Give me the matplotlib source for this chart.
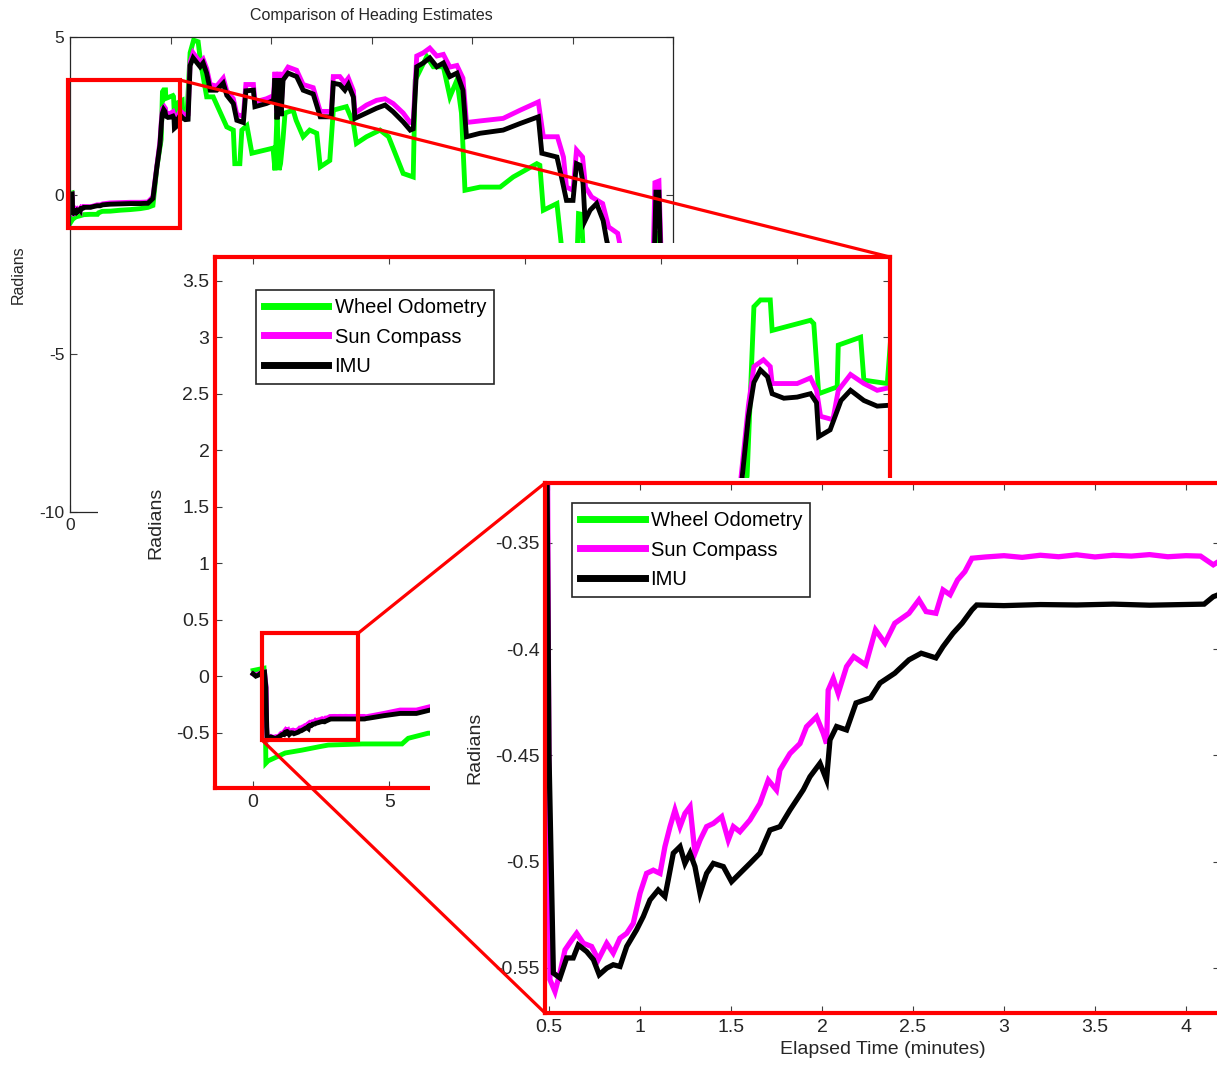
import matplotlib
matplotlib.use('Agg')
import matplotlib.pyplot as plt
from matplotlib.patches import Rectangle, ConnectionPatch
from matplotlib.ticker import FuncFormatter

plt.rcParams['font.family'] = ['Liberation Sans', 'DejaVu Sans']
plt.rcParams['axes.unicode_minus'] = False

# heading traces, elapsed time in minutes, heading in radians
t_imu = [0.0, 0.1, 0.2, 0.3, 0.42, 0.47, 0.50, 0.524, 0.56, 0.597, 0.633, 0.661, 0.707, 0.744, 0.776,
         0.817, 0.853, 0.89, 0.927, 0.981, 1.018, 1.055, 1.10, 1.137, 1.155, 1.183, 1.22, 1.247, 1.275,
         1.302, 1.33, 1.366, 1.403, 1.458, 1.503, 1.549, 1.604, 1.659, 1.714, 1.769, 1.824, 1.897, 1.934,
         1.989, 2.025, 2.044, 2.08, 2.135, 2.187, 2.267, 2.319, 2.40, 2.478, 2.545, 2.626, 2.665, 2.72,
         2.77, 2.824, 2.85, 3.0, 3.2, 3.4, 3.6, 3.8, 4.0, 4.1, 4.15, 4.25,
         4.8, 5.4, 6.0, 6.5, 8, 10, 12, 14, 15.5, 16.5, 17.3, 17.9, 18.2, 18.4, 18.64, 18.9, 19.07, 19.5,
         19.99, 20.48, 20.7, 20.78, 21.2, 21.6, 21.95, 22.44, 22.93, 23.5,
         23.9, 24.5, 25.2, 25.9, 26.5, 27.2, 27.9, 29.2, 30.5, 31.2, 32.5, 33.2, 34.5, 35.0, 36.5, 36.8,
         39.1, 40.5, 40.8, 41.2, 41.6, 42.0, 42.4, 43.4, 45.1, 46.4, 48.4, 49.8, 52.0, 52.4, 53.7, 54.7,
         55.4, 56.4, 56.7, 59.0, 61.0, 62.7, 64.3, 66.3, 67.7, 68.3, 69.0, 70.3, 71.6, 73.0, 74.3, 75.6,
         77.0, 78.2, 78.9, 81.6, 86.2, 89.6, 93.2, 93.9, 96.9, 97.8, 98.8, 100.1, 100.8, 101.5, 102.1,
         102.5, 103.5, 104.8, 106.1, 106.8, 108, 112, 116.2, 116.6, 117.2, 117.6, 119]
imu = [0.02, 0.0, 0.01, 0.03, 0.035, -0.1, -0.45, -0.5524, -0.5547, -0.5453, -0.5453, -0.5392, -0.5423,
       -0.5461, -0.5532, -0.5501, -0.5485, -0.5493, -0.5399, -0.5321, -0.5258, -0.518, -0.5133, -0.5164,
       -0.5086, -0.496, -0.4929, -0.5008, -0.496, -0.5023, -0.5149, -0.5055, -0.5008, -0.5023, -0.5094,
       -0.5055, -0.5008, -0.496, -0.4851, -0.4835, -0.4757, -0.4662, -0.46, -0.4537, -0.4615, -0.4427,
       -0.4364, -0.438, -0.4253, -0.4229, -0.4159, -0.4113, -0.405, -0.4019, -0.4041, -0.3988, -0.3925,
       -0.3878, -0.3815, -0.3792, -0.3795, -0.379, -0.3792, -0.3788, -0.3793, -0.379, -0.3788, -0.3753,
       -0.372,
       -0.35, -0.33, -0.33, -0.30, -0.28, -0.27, -0.26, -0.26, -0.25, -0.1, 0.9, 1.6, 2.3, 2.6, 2.71,
       2.65, 2.50, 2.46, 2.47, 2.50, 2.42, 2.12, 2.18, 2.44, 2.53, 2.44, 2.39, 2.40,
       4.1, 4.34, 4.2, 4.06, 4.18, 3.86, 3.32, 3.32, 3.54, 3.16, 2.9, 2.37, 2.3, 3.3, 3.32, 2.8,
       2.9, 3.0, 3.7, 2.4, 3.7, 2.5, 3.64, 3.86, 3.75, 3.32, 3.2, 2.48, 2.48, 3.54, 3.5, 3.32,
       3.5, 3.1, 2.43, 2.6, 2.75, 2.85, 2.64, 2.32, 2.06, 2.1, 4.06, 4.18, 4.34, 4.06, 4.18, 3.75,
       3.86, 3.32, 1.85, 1.96, 2.06, 2.27, 2.48, 1.33, 1.21, 0.58, -0.16, -0.16, 1.0, 0.95, 0.37,
       -0.8, -0.47, -0.26, -0.8, -1.42, -2.2, -2.6, -2.4, 0.1, 0.1, -2.3, -2.5]

t_sun = [0.0, 0.1, 0.2, 0.3, 0.42, 0.48, 0.505, 0.533, 0.56, 0.588, 0.624, 0.652, 0.689, 0.734, 0.771,
         0.817, 0.853, 0.89, 0.927, 0.963, 1.0, 1.036, 1.073, 1.11, 1.137, 1.165, 1.192, 1.22, 1.247,
         1.275, 1.302, 1.33, 1.366, 1.403, 1.449, 1.485, 1.513, 1.549, 1.604, 1.659, 1.705, 1.75, 1.769,
         1.824, 1.879, 1.915, 1.97, 2.007, 2.025, 2.034, 2.062, 2.089, 2.135, 2.174, 2.24, 2.294, 2.346,
         2.40, 2.478, 2.533, 2.572, 2.626, 2.665, 2.704, 2.745, 2.785, 2.824, 2.9, 3.0, 3.1, 3.2, 3.3,
         3.4, 3.5, 3.6, 3.7, 3.8, 3.9, 4.0, 4.08, 4.15, 4.25,
         4.8, 5.4, 6.0, 6.5, 8, 10, 12, 14, 15.5, 16.5, 17.3, 17.9, 18.2, 18.4, 18.75, 19.0, 19.07, 19.99,
         20.48, 20.7, 20.85, 21.3, 21.5, 21.95, 22.44, 22.93, 23.5,
         23.9, 24.5, 25.9, 26.5, 27.2, 27.9, 29.2, 30.5, 31.2, 32.5, 33.2, 34.5, 35.0, 36.5, 36.8, 39.1,
         40.5, 40.8, 41.2, 41.6, 42.0, 42.4, 43.4, 45.1, 46.4, 48.4, 49.8, 52.0, 52.4, 53.7, 54.7, 55.4,
         56.4, 56.7, 59.0, 61.0, 62.7, 64.3, 66.3, 67.7, 68.3, 69.0, 70.3, 71.6, 73.0, 74.3, 75.6, 77.0,
         78.2, 78.9, 81.6, 86.2, 89.6, 93.2, 94.2, 97.0, 98.2, 98.8, 100.1, 100.8, 102.0, 102.6, 103.8,
         106.0, 107.2, 109, 110, 112, 116.0, 116.4, 117.2, 117.7, 119]
sun = [0.02, 0.01, 0.02, 0.03, 0.035, -0.1, -0.5555, -0.5611, -0.5524, -0.5415, -0.537, -0.5337, -0.5384,
       -0.5399, -0.5461, -0.5384, -0.543, -0.536, -0.5337, -0.529, -0.5149, -0.5055, -0.504, -0.5055,
       -0.4929, -0.4835, -0.4757, -0.4835, -0.4773, -0.4741, -0.496, -0.4898, -0.4835, -0.482, -0.4788,
       -0.4898, -0.4835, -0.4859, -0.4804, -0.4726, -0.4616, -0.4663, -0.4569, -0.4491, -0.4444, -0.4365,
       -0.4318, -0.4396, -0.4444, -0.4193, -0.4138, -0.4208, -0.4082, -0.4035, -0.4074, -0.3909, -0.3971,
       -0.3878, -0.3831, -0.3768, -0.3823, -0.3831, -0.3721, -0.3744, -0.3674, -0.3635, -0.3572, -0.3566,
       -0.356, -0.3568, -0.3558, -0.3565, -0.3556, -0.3566, -0.3558, -0.3562, -0.3555, -0.3565, -0.356,
       -0.3562, -0.3603, -0.355,
       -0.33, -0.30, -0.30, -0.27, -0.24, -0.23, -0.22, -0.22, -0.21, -0.05, 0.95, 1.7, 2.4, 2.74, 2.8,
       2.74, 2.59, 2.59, 2.64, 2.53, 2.30, 2.27, 2.53, 2.67, 2.59, 2.53, 2.56,
       4.2, 4.5, 4.2, 4.3, 4.0, 3.5, 3.45, 3.7, 3.3, 3.05, 2.55, 2.5, 3.5, 3.5, 2.95, 3.05,
       3.15, 3.9, 2.6, 3.9, 2.7, 3.8, 4.05, 3.95, 3.5, 3.4, 2.65, 2.65, 3.75, 3.75, 3.55, 3.7,
       3.3, 2.6, 2.85, 3.0, 3.05, 2.9, 2.6, 2.3, 2.3, 4.4, 4.5, 4.65, 4.4, 4.45, 4.05, 4.1,
       3.7, 2.3, 2.35, 2.43, 2.69, 2.95, 1.85, 1.85, 1.21, 0.26, 0.16, 1.43, 1.21, 0.26, -0.05,
       -0.26, -1.0, -1.2, -2.0, -2.4, -2.3, 0.4, 0.45, -2.2, -2.4]

t_wheel = [0.0, 0.2, 0.40, 0.44, 0.47, 0.55, 1.18, 1.79, 2.4, 2.76, 4.0, 5.47, 5.7, 6.43, 8, 10, 12, 14,
           15.5, 16.5, 17.3, 18.15, 18.4, 18.64, 19.0, 19.07, 20.48, 20.6, 20.78, 21.46, 21.5, 22.32,
           22.44, 23.3,
           23.9, 24.6, 25.5, 26.0, 27.2, 28.5, 31.2, 32.5, 32.8, 33.8, 34.2, 35.2, 36.2, 40.4, 40.8, 41.2,
           41.6, 41.9, 42.4, 42.8, 44.4, 45.0, 46.4, 47.7, 49.1, 49.8, 51.7, 52.4, 55.0, 56.4, 57.0, 59.0,
           61.7, 63.4, 65.0, 66.3, 68.3, 68.7, 71.0, 72.3, 74.3, 75.6, 77.0, 77.9, 78.6, 81.6, 85.6, 88.2,
           92.9, 93.5, 94.2, 96.9, 97.8, 99, 100.8, 101.2, 101.8, 102.3, 108, 116, 116.5, 117.2, 117.6, 119]
wheel = [0.05, 0.06, 0.07, -0.2, -0.77, -0.75, -0.68, -0.655, -0.626, -0.61, -0.60, -0.60, -0.55, -0.505,
         -0.5, -0.47, -0.45, -0.42, -0.38, -0.32, 0.9, 1.77, 3.27, 3.33, 3.33, 3.06, 3.15, 3.12, 2.5, 2.56,
         2.93, 3.0, 2.62, 2.59,
         4.5, 4.9, 4.85, 4.2, 3.11, 3.11, 2.16, 2.06, 1.0, 1.0, 2.06, 2.2, 1.33, 1.49, 0.79, 2.6,
         0.8, 1.0, 1.8, 2.6, 2.69, 2.37, 1.85, 2.06, 1.96, 0.9, 1.1, 2.69, 2.8, 2.27, 1.64, 1.85,
         2.06, 1.85, 1.21, 0.69, 0.58, 3.64, 4.38, 4.06, 4.06, 3.11, 3.64, 2.6, 0.16, 0.26, 0.26, 0.58,
         1.0, 0.95, -0.47, -0.26, -1.6, -2.5, -2.4, -0.58, -0.6, -2.4, -3.0, -3.0, -1.2, -1.2, -3.0, -3.2]

series_names = ['Wheel Odometry', 'Sun Compass', 'IMU']
series_colors = ['#00ff00', '#ff00ff', 'black']

# view limits: full run, first zoom, second zoom
full_xlim, full_ylim = (0, 120), (-10, 5)
zoom1_xlim, zoom1_ylim = (-1.4, 23.4), (-0.99, 3.71)
zoom2_xlim, zoom2_ylim = (0.478, 4.187), (-0.5712, -0.3218)
box1 = (-0.4, 21.9, -1.04, 3.64)
box2 = (0.33, 3.86, -0.567, 0.38)

W, H = 1217, 1078
RED = '#ff0000'


def px_axes(fig, left, top, right, bottom):
    return fig.add_axes([left / W, 1 - bottom / H, (right - left) / W, (bottom - top) / H])


def style_axes(ax, spine_color, spine_width, size):
    for s in ax.spines.values():
        s.set_color(spine_color)
        s.set_linewidth(spine_width)
    ax.tick_params(direction='in', top=True, right=True, length=5, width=0.8, color='#404040',
                   labelsize=size, labelcolor='#262626', pad=4)
    fmt = FuncFormatter(lambda v, p: '%g' % v)
    ax.xaxis.set_major_formatter(fmt)
    ax.yaxis.set_major_formatter(fmt)


def draw_traces(ax, lw):
    for t, v, name, c in zip([t_wheel, t_sun, t_imu], [wheel, sun, imu], series_names, series_colors):
        ax.plot(t, v, color=c, lw=lw, label=name, solid_joinstyle='miter')


def add_legend(ax, x, y):
    leg = ax.legend(loc='upper left', bbox_to_anchor=(x, y), borderaxespad=0, fancybox=False,
                    edgecolor='#262626', framealpha=1, fontsize=14.5, handlelength=3.2,
                    handletextpad=0.3, labelspacing=0.52, borderpad=0.4)
    leg.get_frame().set_linewidth(1.2)
    for h in leg.get_lines():
        h.set_linewidth(5)


def zoom_box(ax, box):
    x0, x1, y0, y1 = box
    ax.add_patch(Rectangle((x0, y0), x1 - x0, y1 - y0, fill=False, edgecolor=RED, lw=3,
                           clip_on=False, zorder=10))


fig = plt.figure(figsize=(W / 100, H / 100), dpi=100)

# full run; only the first bottom label stays uncovered
ax1 = px_axes(fig, 70, 37, 673, 512)
draw_traces(ax1, 3.5)
ax1.set_xlim(full_xlim)
ax1.set_ylim(full_ylim)
ax1.set_yticks([-10, -5, 0, 5])
style_axes(ax1, '#262626', 0.9, 12.5)
ax1.set_xticks(range(0, 121, 20))
ax1.set_xticklabels(['0'] + [''] * 6)
ax1.set_title('Comparison of Heading Estimates', fontsize=11.5, color='#262626', pad=12)
ax1.set_ylabel('Radians', fontsize=11.5, color='#262626', labelpad=10)
ax1.set_zorder(1)
zoom_box(ax1, box1)

# first zoom
ax2 = px_axes(fig, 215, 257, 890, 788)
draw_traces(ax2, 3.5)
ax2.set_xlim(zoom1_xlim)
ax2.set_ylim(zoom1_ylim)
ax2.set_xticks([0, 5, 10, 15, 20])
ax2.set_yticks([-0.5, 0, 0.5, 1, 1.5, 2, 2.5, 3, 3.5])
style_axes(ax2, RED, 3, 14)
ax2.set_ylabel('Radians', fontsize=14, color='#262626', labelpad=8)
ax2.set_zorder(3)
add_legend(ax2, 0.0607, 0.9379)
zoom_box(ax2, box2)

# second zoom
ax3 = px_axes(fig, 545, 483, 1220, 1013)
draw_traces(ax3, 3.8)
ax3.set_xlim(zoom2_xlim)
ax3.set_ylim(zoom2_ylim)
ax3.set_xticks([0.5, 1, 1.5, 2, 2.5, 3, 3.5, 4])
ax3.set_yticks([-0.55, -0.5, -0.45, -0.4, -0.35])
style_axes(ax3, RED, 3, 14)
ax3.set_ylabel('Radians', fontsize=14, color='#262626', labelpad=8)
ax3.set_xlabel('Elapsed Time (minutes)', fontsize=14, color='#262626', labelpad=4)
ax3.set_zorder(5)
add_legend(ax3, 0.04, 0.9623)

# blank out the parts of the lower views that sit behind the next zoom
for left, top, z in [(98, 243, 2), (430, 478, 4)]:
    fig.add_artist(Rectangle((left / W, 0), 1 - left / W, 1 - top / H, transform=fig.transFigure,
                             facecolor='white', edgecolor='none', zorder=z))

# connector lines from each zoom box to its enlarged view
links = [
    (ax1, (box1[1], box1[3]), ax2, (1, 1)),
    (ax1, (box1[0], box1[2]), ax2, (0, 0)),
    (ax2, (box2[1], box2[3]), ax3, (0, 1)),
    (ax2, (box2[0], box2[2]), ax3, (0, 0)),
]
for a, pa, b, pb in links:
    con = ConnectionPatch(xyA=pa, coordsA='data', axesA=a, xyB=pb, coordsB='axes fraction', axesB=b,
                          color=RED, lw=2.3)
    con.set_zorder(6)
    fig.add_artist(con)

fig.savefig('out.png', dpi=100)
